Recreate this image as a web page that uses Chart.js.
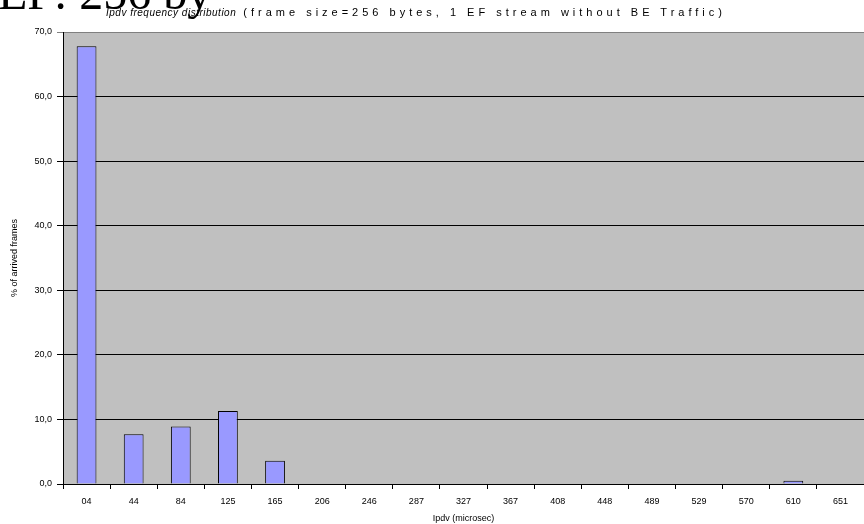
<!DOCTYPE html>
<html>
<head>
<meta charset="utf-8">
<script src="https://cdn.jsdelivr.net/npm/chart.js@4"></script>
<style>
  body { margin: 0; background: #fff; }
  #wrap { position: relative; width: 864px; height: 524px; overflow: hidden; }
  #bigTitle {
    position: absolute; left: -2px; top: -31px;
    font-family: "Liberation Serif", "DejaVu Serif", serif;
    font-size: 48px; line-height: 48px; color: #000; white-space: nowrap;
  }
  #chartTitle {
    position: absolute; left: 106px; top: 6px;
    font-family: "Liberation Sans", Arial, sans-serif;
    font-size: 10px; line-height: 12px; color: #000; white-space: nowrap;
  }
  #chartTitle i { letter-spacing: 0.5px; }
  #chartTitle span { font-size: 11px; letter-spacing: 4px; }
  canvas { position: absolute; left: 0; top: 0; }
</style>
</head>
<body>
<div id="wrap">
  <canvas id="chart" width="864" height="524"></canvas>
  <div id="bigTitle">EF: 256 by</div>
  <div id="chartTitle"><i>Ipdv frequency distribution</i><span> (frame size=256 bytes, 1 EF stream without BE Traffic)</span></div>
</div>
<script>
const categories = ['04', '44', '84', '125', '165', '206', '246', '287', '327', '367', '408', '448', '489', '529', '570', '610', '651'];
const arrivedPct = [67.8, 7.7, 8.9, 11.3, 3.6, 0, 0, 0, 0, 0, 0, 0, 0, 0, 0, 0.5, 0];
const yMin = 0;
const yMax = 70;
const yStep = 10;

// gray plot background like the old Excel chart
const plotBackground = {
    id: 'plotBackground',
    beforeDraw(chart) {
        const { ctx, chartArea } = chart;
        ctx.save();
        ctx.fillStyle = '#c0c0c0';
        ctx.fillRect(chartArea.left, chartArea.top, chartArea.right - chartArea.left, chartArea.bottom - chartArea.top);
        ctx.restore();
    }
};

const ctx = document.getElementById('chart').getContext('2d');
new Chart(ctx, {
    type: 'bar',
    data: {
        labels: categories,
        datasets: [{
            label: '% of arrived frames',
            data: arrivedPct,
            backgroundColor: '#9999ff',
            borderColor: '#000000',
            borderWidth: 1,
            barPercentage: 0.42,
            categoryPercentage: 1.0
        }]
    },
    options: {
        responsive: false,
        animation: false,
        devicePixelRatio: 1,
        layout: {
            padding: { top: 32, right: 0, left: 0, bottom: 0 }
        },
        plugins: {
            legend: { display: false },
            tooltip: { enabled: false }
        },
        scales: {
            x: {
                grid: {
                    offset: true,
                    drawOnChartArea: false,
                    drawTicks: true,
                    tickLength: 5,
                    color: '#000'
                },
                border: { color: '#000', width: 1 },
                ticks: {
                    color: '#000',
                    padding: 7,
                    maxRotation: 0,
                    autoSkip: false,
                    font: { family: 'Liberation Sans', size: 9 }
                },
                title: {
                    display: true,
                    text: 'Ipdv (microsec)',
                    color: '#000',
                    padding: { top: 1, bottom: 0 },
                    font: { family: 'Liberation Sans', size: 9 }
                },
                afterFit(scale) { scale.height = 40; }
            },
            y: {
                min: yMin,
                max: yMax,
                grid: {
                    color: (c) => c.tick && c.tick.value === yMax ? '#808080' : '#000',
                    tickLength: 6,
                    lineWidth: 1
                },
                border: { color: '#000', width: 1 },
                ticks: {
                    stepSize: yStep,
                    color: '#000',
                    padding: 5,
                    font: { family: 'Liberation Sans', size: 9 },
                    callback: (v) => v.toFixed(1).replace('.', ',')
                },
                title: {
                    display: true,
                    text: '% of arrived frames',
                    color: '#000',
                    padding: { top: 9, bottom: 0 },
                    font: { family: 'Liberation Sans', size: 9 }
                },
                afterFit(scale) { scale.width = 63; }
            }
        }
    },
    plugins: [plotBackground]
});
</script>
</body>
</html>
